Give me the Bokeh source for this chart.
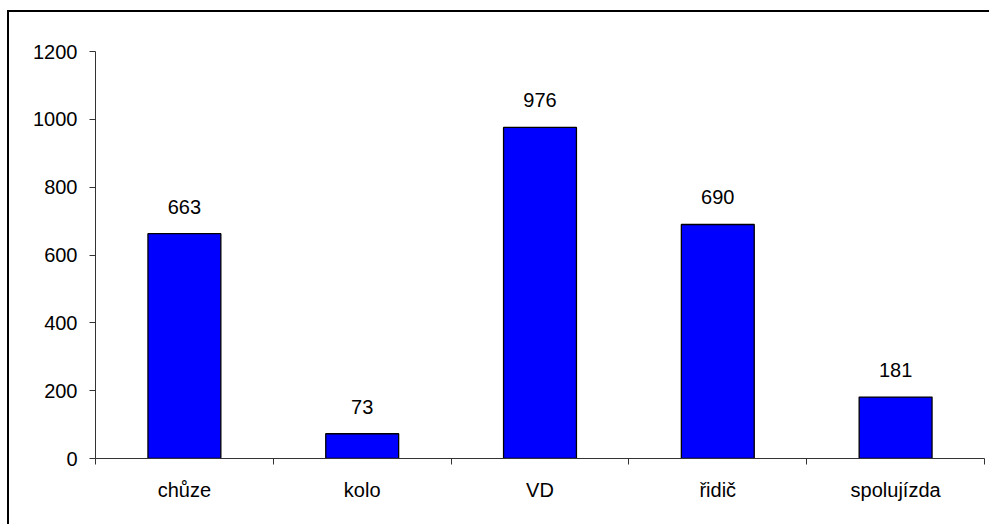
import numpy as np
from bokeh.plotting import figure
from bokeh.models import Range1d, FixedTicker
from bokeh.core.properties import value
from bokeh.embed import file_html
from bokeh.resources import INLINE

# Trips by mode of transport
categories = ["chůze", "kolo", "VD", "řidič", "spolujízda"]
counts = [663, 73, 976, 690, 181]
y_ticks = [0, 200, 400, 600, 800, 1000, 1200]

FONT = "Liberation Sans"
centers = np.arange(len(categories)) + 0.5

# the chart sits inside a black frame whose left and top edges show
p = figure(width=982, height=514, output_backend="svg", toolbar_location=None,
           x_range=Range1d(0, len(categories)), y_range=Range1d(0, 1200),
           min_border_left=86, min_border_right=9, min_border_top=39, min_border_bottom=70)
p.margin = (10, 0, 0, 7)
p.styles = {"border-left": "2px solid black", "border-top": "2px solid black",
            "box-sizing": "content-box"}
p.background_fill_color = "white"
p.border_fill_color = "white"
p.outline_line_color = None
p.xgrid.visible = False
p.ygrid.visible = False

p.vbar(x=centers, top=counts, width=0.41, fill_color="#0000FF",
       line_color="black", line_width=1.3)

p.text(x=centers, y=counts, text=[str(c) for c in counts], y_offset=-27,
       text_align="center", text_baseline="alphabetic",
       text_font=value(FONT), text_font_size="20px", text_color="black")

# x axis: labels at category centres, ticks on category boundaries
xa = p.xaxis[0]
xa.ticker = FixedTicker(ticks=list(centers), minor_ticks=list(range(len(categories) + 1)))
xa.major_label_overrides = {float(c): name for c, name in zip(centers, categories)}
xa.major_tick_line_color = None
xa.major_tick_out = 0
xa.major_tick_in = 0
xa.minor_tick_line_color = "#333333"
xa.minor_tick_out = 6
xa.minor_tick_in = 0
xa.major_label_standoff = 14

ya = p.yaxis[0]
ya.ticker = FixedTicker(ticks=y_ticks, minor_ticks=[])
ya.major_tick_out = 6
ya.major_tick_in = 0
ya.major_tick_line_color = "#333333"
ya.major_label_standoff = 12

for ax in (xa, ya):
    ax.axis_line_color = "#333333"
    ax.axis_line_width = 1
    ax.major_label_text_font = FONT
    ax.major_label_text_font_size = "20px"
    ax.major_label_text_color = "black"

open("out.html", "w").write(file_html(p, INLINE))
